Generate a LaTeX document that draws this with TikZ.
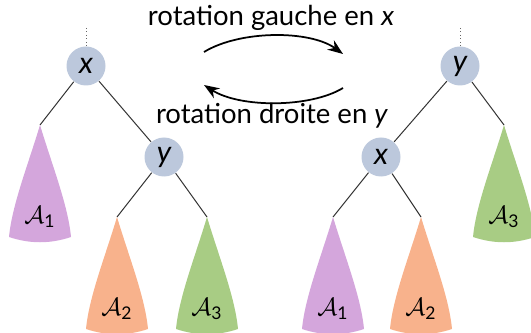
\documentclass[tikz,border=0pt]{standalone}
\usepackage{amsmath}
\usepackage{fontspec}
\setmainfont{Lato}
\usepackage{tikz}
\usetikzlibrary{arrows.meta,positioning,calc}
\definecolor{noeud}{HTML}{BCC8DC}
\definecolor{violetA}{HTML}{D4A6DC}
\definecolor{orangeA}{HTML}{F8B28C}
\definecolor{vertA}{HTML}{A8CC84}
% sous-arbre : nom, sommet, couleur, indice
\newcommand{\SousArbre}[4]{%
\begin{scope}[shift={(#2)}]
\fill[#3] (0,0) .. controls (-12,40) and (-28,80) .. (-31,112)
  .. controls (-10,119) and (10,119) .. (31,112)
  .. controls (28,80) and (12,40) .. (0,0);
\coordinate (#1) at (0,0);
\node (#1-l) at (0,92) {$\mathcal{A}_{\text{#4}}$};
\end{scope}}

\begin{document}
\begin{tikzpicture}[x=0.4pt, y=-0.4pt, >=Stealth,
  cle/.style={circle, fill=noeud, minimum size=15.6pt, inner sep=0pt, font=\large\itshape},
  arete/.style={draw=black!80, line width=0.4pt},
  pere/.style={draw=black!60, densely dotted, line width=0.4pt}]
\useasboundingbox (0,0) rectangle (531,332);
% arbre de gauche
\node[cle] (x1) at (86,66) {x};
\node[cle] (y1) at (164,157) {y};
\coordinate (p1) at (86,28);
\SousArbre{a1}{40,125}{violetA}{1}
\SousArbre{a2}{117,217}{orangeA}{2}
\SousArbre{a3}{207,217}{vertA}{3}
\draw[pere] (p1) -- (x1);
\draw[arete] (x1) -- (a1);
\draw[arete] (x1) -- (y1);
\draw[arete] (y1) -- (a2);
\draw[arete] (y1) -- (a3);
% arbre de droite
\node[cle] (y2) at (460,66) {y};
\node[cle] (x2) at (381,157) {x};
\coordinate (p2) at (460,28);
\SousArbre{b1}{333,217}{violetA}{1}
\SousArbre{b2}{421,217}{orangeA}{2}
\SousArbre{b3}{504,125}{vertA}{3}
\draw[pere] (p2) -- (y2);
\draw[arete] (y2) -- (x2);
\draw[arete] (y2) -- (b3);
\draw[arete] (x2) -- (b1);
\draw[arete] (x2) -- (b2);
% rotations
\coordinate (g1) at (204,52);
\coordinate (g2) at (343,54);
\coordinate (d1) at (343,88);
\coordinate (d2) at (204,85);
\draw[->, line width=0.7pt] (g1) .. controls (240,30) and (310,30) .. (g2);
\draw[->, line width=0.7pt] (d1) .. controls (310,108) and (240,108) .. (d2);
\node (rg) at (271,18) {\fontsize{11}{13}\selectfont rotation gauche en \textit{x}};
\node (rd) at (272,116) {\fontsize{11}{13}\selectfont rotation droite en \textit{y}};
\end{tikzpicture}
\end{document}
